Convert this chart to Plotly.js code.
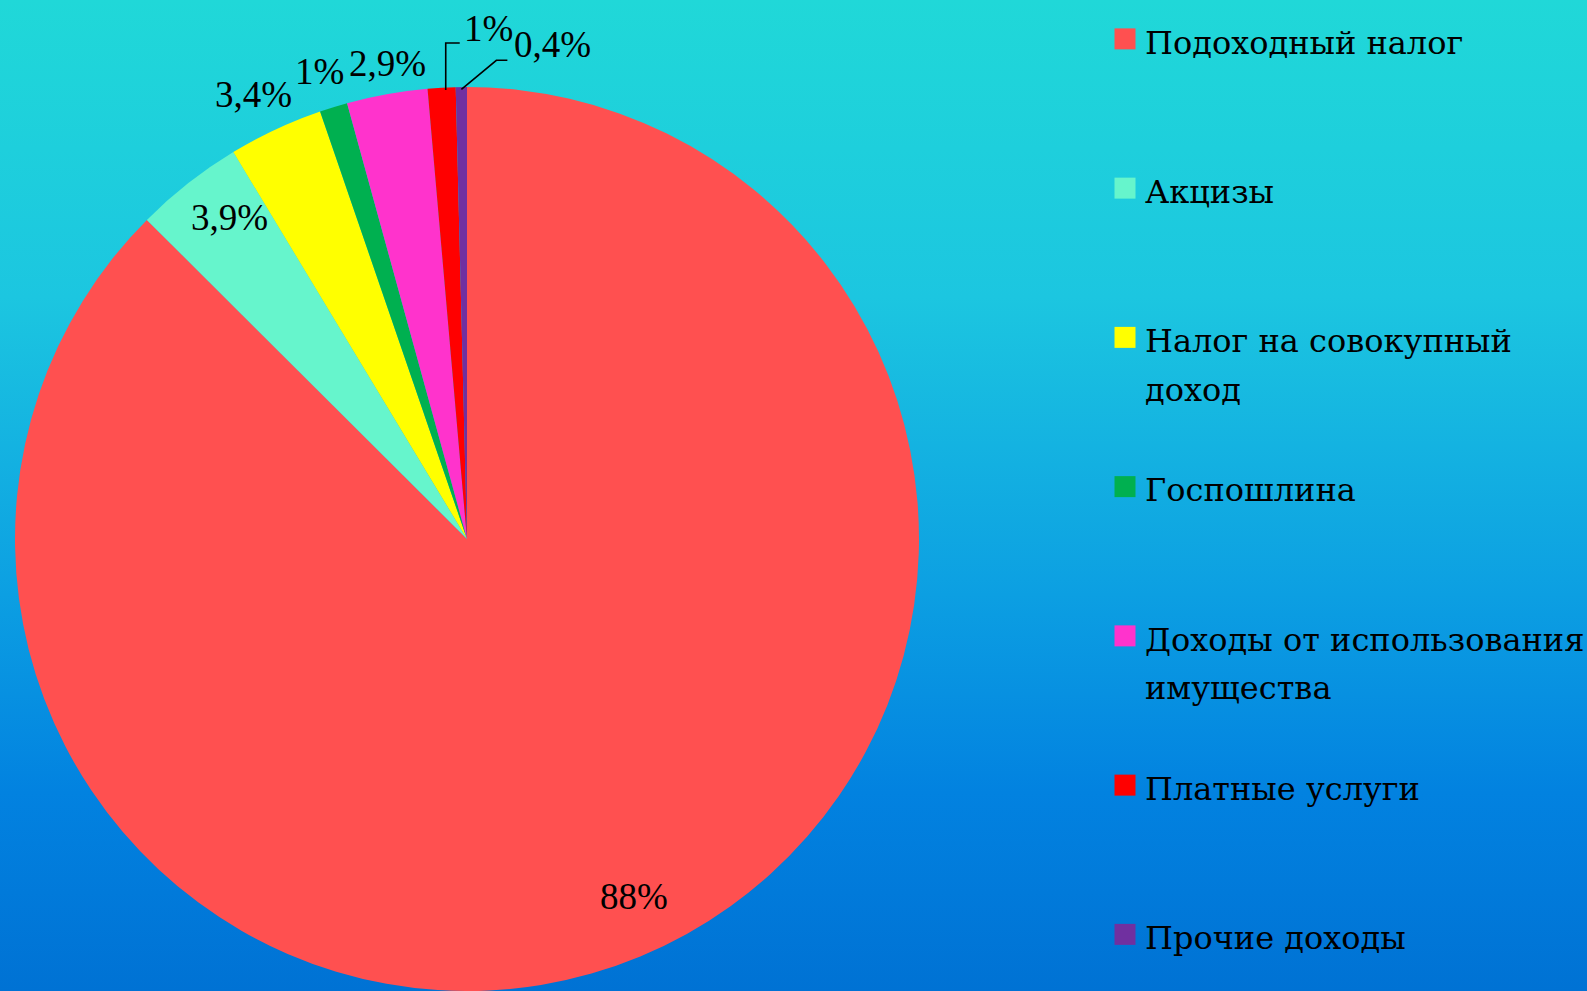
<!DOCTYPE html>
<html>
<head>
<meta charset="utf-8">
<script src="https://cdn.plot.ly/plotly-3.0.1.min.js"></script>
<style>
html, body { margin: 0; padding: 0; }
body {
  width: 1587px; height: 991px; overflow: hidden;
  background: linear-gradient(to bottom, #20d8d8 0%, #1cc6e0 30%, #0c9fe2 60%, #0282e0 80%, #0072d4 100%);
}
#chart { width: 1587px; height: 991px; }
</style>
</head>
<body>
<div id="chart"></div>
<script>
// ---------------- Data ----------------
const categories = [
  'Подоходный налог',
  'Акцизы',
  'Налог на совокупный<br>доход',
  'Госпошлина',
  'Доходы от использования<br>имущества',
  'Платные услуги',
  'Прочие доходы'
];
const shares = [88, 3.9, 3.4, 1, 2.9, 1, 0.4];
const sliceColors = ['#ff5050', '#66f5cc', '#ffff00', '#00b050', '#ff33cc', '#ff0000', '#7030a0'];

// ---------------- Layout / style ----------------
const W = 1587, H = 991;
const domX = [15 / W, 919 / W];
const domY = [0, 904 / H];
// label distance from centre, as fraction of radius (null -> leader line label)
const labelRadius = [0.874, 0.878, 1.086, 1.082, 1.062, null, null];
// small pixel nudges for label placement
const labelNudge = [[16, -7], [7, -9], [-6, 0], [-3, 0], [5, -3], [0, 0], [0, -5]];
// leader-line labels: start shift, text offset and elbow offsets from the slice edge (px)
const leaders = {
  5: { ox: 4, tx: 16, ty: -61, ex: 0, ey: -47, hx: 14 },
  6: { ox: 0, tx: 51, ty: -40, ex: 35, ey: -29, hx: 46 }
};
const LEGEND_BASE = 37.5;   // controls legend entry spacing
const LEGEND_TEXT = 32;     // visible legend text size
const LABEL_FONT = { family: 'Liberation Serif', size: 37, color: '#000000' };

// Legend labels: bigger visible text, padded to 3 lines so all entries are evenly spaced
const legendLabels = categories.map(c => {
  const lines = c.split('<br>');
  const body = lines.map(l => '<span style="font-size:' + LEGEND_TEXT + 'px">' + l + '</span>').join('<br>');
  return body + '<br>\u00a0'.repeat(3 - lines.length);
});

// Pie geometry (px) derived from the domain
const cxPx = (domX[0] + domX[1]) / 2 * W;
const cyPx = H - (domY[0] + domY[1]) / 2 * H;
const Rpx = Math.min((domX[1] - domX[0]) * W, (domY[1] - domY[0]) * H) / 2;
const toPaper = (px, py) => ({ x: px / W, y: 1 - py / H });

const total = shares.reduce((a, b) => a + b, 0);
const fmt = v => String(v).replace('.', ',') + '%';

const annotations = [];
const shapes = [];
let cum = 0;
shares.forEach((v, i) => {
  const a0 = cum / total * 2 * Math.PI;
  cum += v;
  const a1 = cum / total * 2 * Math.PI;
  const mid = (a0 + a1) / 2;           // clockwise from 12 o'clock
  const sx = Math.sin(mid), sy = -Math.cos(mid);
  const nd = labelNudge[i];
  if (labelRadius[i] !== null) {
    const p = toPaper(cxPx + sx * Rpx * labelRadius[i] + nd[0], cyPx + sy * Rpx * labelRadius[i] + nd[1]);
    annotations.push({
      xref: 'paper', yref: 'paper', x: p.x, y: p.y,
      xanchor: 'center', yanchor: 'middle',
      text: fmt(v), showarrow: false, font: LABEL_FONT
    });
  } else {
    const L = leaders[i];
    const ex = cxPx + sx * Rpx * 0.995 + L.ox, ey = cyPx + sy * Rpx * 0.995;
    const p0 = toPaper(ex, ey);
    const p1 = toPaper(ex + L.ex, ey + L.ey);
    const p2 = toPaper(ex + L.hx, ey + L.ey);
    shapes.push({
      type: 'path', xref: 'paper', yref: 'paper',
      path: 'M ' + p0.x + ',' + p0.y + ' L ' + p1.x + ',' + p1.y + ' L ' + p2.x + ',' + p2.y,
      line: { color: '#000000', width: 1.6 }
    });
    const pt = toPaper(ex + L.tx + nd[0], ey + L.ty + nd[1]);
    annotations.push({
      xref: 'paper', yref: 'paper', x: pt.x, y: pt.y,
      xanchor: 'left', yanchor: 'middle',
      text: fmt(v), showarrow: false, font: LABEL_FONT
    });
  }
});

const trace = {
  type: 'pie',
  labels: legendLabels,
  values: shares,
  sort: false,
  direction: 'clockwise',
  rotation: 0,
  marker: { colors: sliceColors, line: { width: 0 } },
  textinfo: 'none',
  hoverinfo: 'label+percent',
  domain: { x: domX, y: domY }
};

const layout = {
  width: W,
  height: H,
  margin: { l: 0, r: 0, t: 0, b: 0, autoexpand: false },
  paper_bgcolor: 'rgba(0,0,0,0)',
  plot_bgcolor: 'rgba(0,0,0,0)',
  separators: ', ',
  showlegend: true,
  legend: {
    x: 1105 / W,
    xanchor: 'left',
    y: 1 - 8 / H,
    yanchor: 'top',
    valign: 'top',
    bgcolor: 'rgba(0,0,0,0)',
    font: { family: 'DejaVu Serif', size: LEGEND_BASE, color: '#000000' },
    traceorder: 'normal'
  },
  annotations: annotations,
  shapes: shapes
};

Plotly.newPlot('chart', [trace], layout, { displayModeBar: false, staticPlot: true }).then(gd => {
  // enlarge the legend colour squares to match the reference
  gd.querySelectorAll('path.legendpie').forEach(p => p.setAttribute('d', 'M10.5,10.5H-10.5V-10.5H10.5Z'));
});
</script>
</body>
</html>
